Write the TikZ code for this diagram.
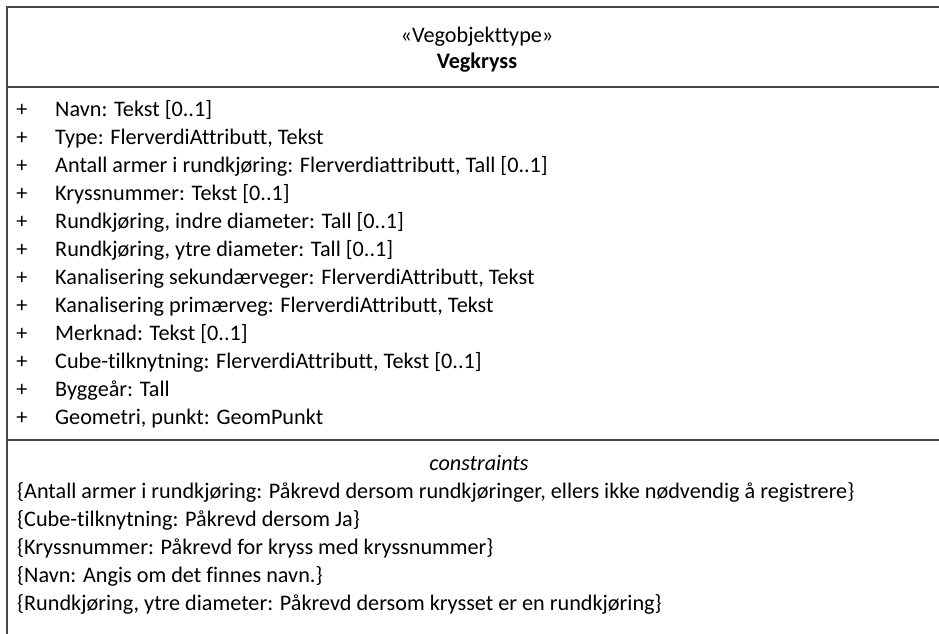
\documentclass[tikz,border=0pt]{standalone}
\usepackage{fontspec}
\setmainfont[Ligatures=NoCommon]{Carlito}
\usetikzlibrary{positioning}

\begin{document}
\begin{tikzpicture}[
        x=1pt, y=-1pt,
        font=\fontsize{22.2}{26}\selectfont,
        frame/.style={draw=black!72, line width=1.3pt},
        title/.style={anchor=base, inner sep=0pt},
        vis/.style={anchor=base, inner sep=0pt},
        attr/.style={anchor=base west, inner sep=0pt},
        rule/.style={anchor=base west, inner sep=0pt}
    ]
        \useasboundingbox (0,0) rectangle (939,634);
        \clip (0,0) rectangle (939,634);

        % class box and compartments
        \draw[frame] (7,7) rectangle (947,660);
        \draw[frame] (7,87) -- (947,87);
        \draw[frame] (7,440) -- (947,440);

        \node[title] (stereo) at (477,43) {«Vegobjekttype»};
        \node[title, font=\fontsize{22.2}{26}\selectfont\bfseries] (name) at (477,69) {Vegkryss};

        % attributes
        \node[vis] (p1) at (22,116) {+};
        \node[attr] (a1) at (55,116) {Navn: Tekst [0..1]};
        \node[vis] (p2) at (22,144) {+};
        \node[attr] (a2) at (55,144) {Type: FlerverdiAttributt, Tekst};
        \node[vis] (p3) at (22,172) {+};
        \node[attr] (a3) at (55,172) {Antall armer i rundkjøring: Flerverdiattributt, Tall [0..1]};
        \node[vis] (p4) at (22,200) {+};
        \node[attr] (a4) at (55,200) {Kryssnummer: Tekst [0..1]};
        \node[vis] (p5) at (22,228) {+};
        \node[attr] (a5) at (55,228) {Rundkjøring, indre diameter: Tall [0..1]};
        \node[vis] (p6) at (22,256) {+};
        \node[attr] (a6) at (55,256) {Rundkjøring, ytre diameter: Tall [0..1]};
        \node[vis] (p7) at (22,284) {+};
        \node[attr] (a7) at (55,284) {Kanalisering sekundærveger: FlerverdiAttributt, Tekst};
        \node[vis] (p8) at (22,312) {+};
        \node[attr] (a8) at (55,312) {Kanalisering primærveg: FlerverdiAttributt, Tekst};
        \node[vis] (p9) at (22,340) {+};
        \node[attr] (a9) at (55,340) {Merknad: Tekst [0..1]};
        \node[vis] (p10) at (22,368) {+};
        \node[attr] (a10) at (55,368) {Cube-tilknytning: FlerverdiAttributt, Tekst [0..1]};
        \node[vis] (p11) at (22,396) {+};
        \node[attr] (a11) at (55,396) {Byggeår: Tall};
        \node[vis] (p12) at (22,424) {+};
        \node[attr] (a12) at (55,424) {Geometri, punkt: GeomPunkt};

        % constraints
        \node[title, font=\fontsize{22.2}{26}\selectfont\itshape] (ctitle) at (479,470) {constraints};
        \node[rule] (c1) at (17,498) {\{Antall armer i rundkjøring: Påkrevd dersom rundkjøringer, ellers ikke nødvendig å registrere\}};
        \node[rule] (c2) at (17,526) {\{Cube-tilknytning: Påkrevd dersom Ja\}};
        \node[rule] (c3) at (17,554) {\{Kryssnummer: Påkrevd for kryss med kryssnummer\}};
        \node[rule] (c4) at (17,582) {\{Navn: Angis om det finnes navn.\}};
        \node[rule] (c5) at (17,610) {\{Rundkjøring, ytre diameter: Påkrevd dersom krysset er en rundkjøring\}};
    \end{tikzpicture}
\end{document}
